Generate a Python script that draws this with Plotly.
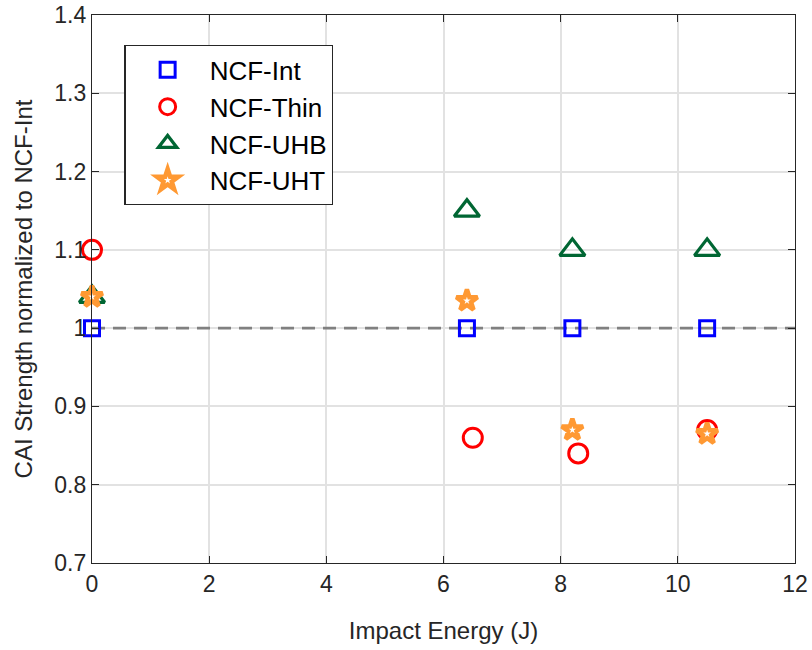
import plotly.graph_objects as go

# Impact energy (J) and normalized CAI strength per laminate type
int_energy = [0, 6.4, 8.2, 10.5]
int_strength = [1.0, 1.0, 1.0, 1.0]

thin_energy = [0, 6.5, 8.3, 10.5]
thin_strength = [1.1, 0.86, 0.84, 0.87]

uhb_energy = [0, 6.4, 8.2, 10.5]
uhb_strength = [1.04, 1.15, 1.1, 1.1]

uht_energy = [0, 6.4, 8.2, 10.5]
uht_strength = [1.04, 1.035, 0.87, 0.865]

baseline_energy = [0, 12]
baseline_strength = [1.0, 1.0]

x_ticks = [0, 2, 4, 6, 8, 10, 12]
y_ticks = [0.7, 0.8, 0.9, 1.0, 1.1, 1.2, 1.3, 1.4]
y_tick_text = ["0.7", "0.8", "0.9", "1", "1.1", "1.2", "1.3", "1.4"]

FONT = "Liberation Sans, Arial, Helvetica, sans-serif"
AXIS_COLOR = "#262626"

fig = go.Figure()

# dashed reference line at 1.0, drawn first so the markers sit on top
fig.add_trace(go.Scatter(x=baseline_energy, y=baseline_strength, mode="lines",
                         line=dict(color="#808080", width=2.6, dash="13px,8px"),
                         showlegend=False, hoverinfo="skip"))

series = [
    ("NCF-Int", int_energy, int_strength,
     dict(symbol="square-open", size=15, color="#0000FF", line=dict(width=3, color="#0000FF"))),
    ("NCF-Thin", thin_energy, thin_strength,
     dict(symbol="circle-open", size=19, color="#FF0000", line=dict(width=3, color="#FF0000"))),
    ("NCF-UHB", uhb_energy, uhb_strength,
     dict(symbol="triangle-up-open", size=22, color="#006633", line=dict(width=3.2, color="#006633"))),
    ("NCF-UHT", uht_energy, uht_strength,
     dict(symbol="star-open", size=16, color="#FF9933", line=dict(width=4.5, color="#FF9933"))),
]

for name, xs, ys, marker in series:
    fig.add_trace(go.Scatter(x=xs, y=ys, mode="markers", name=name, marker=marker,
                             legendgroup=name, cliponaxis=False))

axis_common = dict(
    showline=True, linecolor=AXIS_COLOR, linewidth=1.3, mirror="ticks",
    ticks="inside", ticklen=7, tickwidth=1.2, tickcolor=AXIS_COLOR,
    showgrid=True, gridcolor="#E2E2E2", gridwidth=1.5, zeroline=False,
    automargin=False,
    tickfont=dict(family=FONT, size=23, color=AXIS_COLOR),
)

fig.update_xaxes(range=[0, 12], tickvals=x_ticks,
                 title=dict(text="Impact Energy (J)", font=dict(family=FONT, size=24, color=AXIS_COLOR),
                            standoff=26),
                 **axis_common)
fig.update_yaxes(range=[0.7, 1.4], tickvals=y_ticks, ticktext=y_tick_text,
                 title=dict(text="CAI Strength normalized to NCF-Int",
                            font=dict(family=FONT, size=24, color=AXIS_COLOR), standoff=14),
                 **axis_common)

fig.update_layout(
    width=812, height=650,
    margin=dict(l=92, r=17, t=15, b=87),
    plot_bgcolor="white", paper_bgcolor="white",
    font=dict(family=FONT, color=AXIS_COLOR),
    legend=dict(x=0.046, y=0.945, xanchor="left", yanchor="top",
                bgcolor="white", bordercolor=AXIS_COLOR, borderwidth=1.3,
                font=dict(family=FONT, size=26, color="black"),
                tracegroupgap=0, itemsizing="trace", itemwidth=74),
    showlegend=True,
)

fig.write_html("out.html")
